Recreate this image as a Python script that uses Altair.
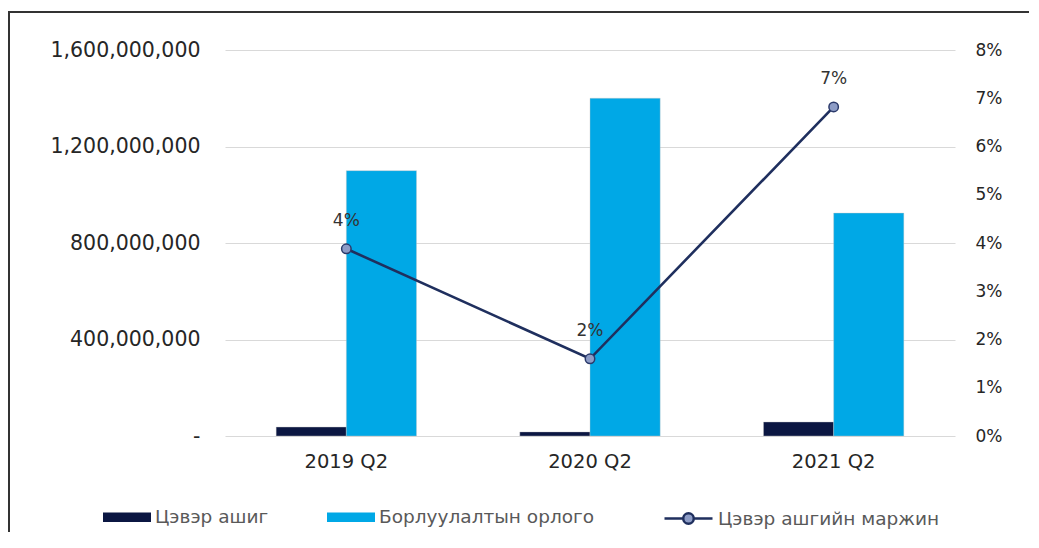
import altair as alt
import pandas as pd

periods = ["2019 Q2", "2020 Q2", "2021 Q2"]
profit = [37_000_000, 17_000_000, 58_000_000]
revenue = [1_100_000_000, 1_400_000_000, 924_000_000]
margin = [0.0388, 0.0160, 0.0682]

s_profit = "Цэвэр ашиг"
s_rev = "Борлуулалтын орлого"
s_margin = "Цэвэр ашгийн маржин"
bar_series = [s_profit, s_rev]
bar_colors = ["#0b1642", "#00a8e6"]
line_color = "#1f2f5e"

bars_df = pd.DataFrame(
    [{"period": p, "series": s_profit, "value": v} for p, v in zip(periods, profit)]
    + [{"period": p, "series": s_rev, "value": v} for p, v in zip(periods, revenue)]
)
line_df = pd.DataFrame({"period": periods, "margin": margin, "series": [s_margin] * 3})
frame_df = pd.DataFrame({"k": [0]})

FONT = "DejaVu Sans"

x_enc = alt.X("period:N", sort=periods, title=None,
              scale=alt.Scale(paddingInner=0.424, paddingOuter=0.21),
              axis=alt.Axis(labelFontSize=19.5, labelColor="#262626", labelPadding=16,
                            ticks=False, domain=False, labelAngle=0, grid=False))

bar_legend = alt.Legend(
    title=None, orient="none", legendX=-122, legendY=443, direction="horizontal",
    labelFontSize=18.5, labelColor="#595959", labelFont=FONT, labelOffset=4,
    labelLimit=0, columnPadding=58, symbolSize=2304, symbolType="M-1,-0.2H1V0.2H-1Z",
    symbolStrokeWidth=0, symbolOpacity=1,
)
line_legend = alt.Legend(
    title=None, orient="none", legendX=438, legendY=443, direction="horizontal",
    labelFontSize=18.5, labelColor="#595959", labelFont=FONT, labelOffset=4,
    labelLimit=0, symbolSize=2304,
    symbolType="M-1,0H-0.22M0.22,0H1M0.22,0A0.22,0.22,0,1,1,-0.22,0A0.22,0.22,0,1,1,0.22,0Z",
    symbolFillColor="#8d9cc6", symbolStrokeColor=line_color, symbolStrokeWidth=2.5,
    symbolOpacity=1,
)

bars = alt.Chart(bars_df).mark_bar(stroke="#c8c8c8", strokeWidth=0.4).encode(
    x=x_enc,
    xOffset=alt.XOffset("series:N", sort=bar_series, scale=alt.Scale(paddingInner=0, paddingOuter=0)),
    y=alt.Y("value:Q", title=None,
            scale=alt.Scale(domain=[0, 1_600_000_000], nice=False),
            axis=alt.Axis(values=[0, 400_000_000, 800_000_000, 1_200_000_000, 1_600_000_000],
                          labelExpr="datum.value == 0 ? '-' : format(datum.value, ',')",
                          labelFontSize=20.5, labelColor="#262626", labelPadding=25,
                          ticks=False, domain=False, grid=True, gridColor="#d9d9d9",
                          gridWidth=1.2)),
    color=alt.Color("series:N", scale=alt.Scale(domain=bar_series, range=bar_colors),
                    legend=bar_legend),
)

y_right = alt.Y("margin:Q", title=None,
                scale=alt.Scale(domain=[0, 0.08], nice=False),
                axis=alt.Axis(orient="right", format=".0%",
                              values=[0, 0.01, 0.02, 0.03, 0.04, 0.05, 0.06, 0.07, 0.08],
                              labelFontSize=17, labelColor="#262626", labelPadding=20,
                              ticks=False, domain=False, grid=False))

line = alt.Chart(line_df).mark_line(strokeWidth=2.6).encode(
    x=alt.X("period:N", sort=periods),
    y=y_right,
    stroke=alt.Stroke("series:N", scale=alt.Scale(domain=[s_margin], range=[line_color]),
                      legend=line_legend),
)
pts = alt.Chart(line_df).mark_circle(size=90, fill="#8d9cc6", stroke="#2b3a6b",
                                     strokeWidth=1.5, opacity=1).encode(
    x=alt.X("period:N", sort=periods),
    y=alt.Y("margin:Q"),
)
labels = alt.Chart(line_df).mark_text(dy=-28, fontSize=17, color="#333333", font=FONT).encode(
    x=alt.X("period:N", sort=periods),
    y=alt.Y("margin:Q"),
    text=alt.Text("margin:Q", format=".0%"),
)
right = alt.layer(line, pts, labels)

frame = alt.Chart(frame_df).mark_rect(filled=False, stroke="#333333", strokeWidth=2).encode(
    x=alt.value(-216), x2=alt.value(900), y=alt.value(-38), y2=alt.value(600)
)

chart = (
    alt.layer(bars, right, frame)
    .resolve_scale(y="independent")
    .properties(
        width=730, height=386,
        autosize=alt.AutoSizeParams(type="none"),
        padding={"left": 217, "top": 42, "right": 74, "bottom": 96},
    )
    .configure(font=FONT)
    .configure_view(strokeWidth=0, stroke="transparent")
    .configure_axis(labelFont=FONT)
)

chart.save("out.html", embed_options={"renderer": "svg", "actions": False})
